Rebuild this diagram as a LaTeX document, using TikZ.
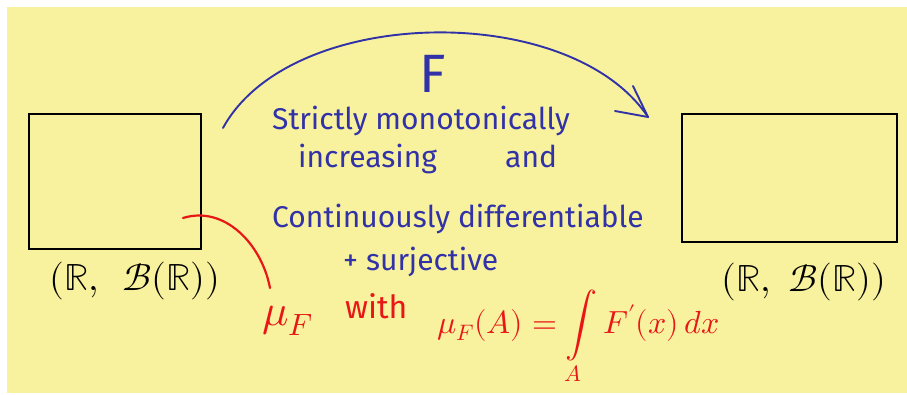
\documentclass[tikz,border=0pt]{standalone}
\usepackage{fontspec}
\usepackage{unicode-math}
\setmainfont{Fira Sans}
\setmathfont{Latin Modern Math}
\definecolor{bg}{RGB}{248,241,158}
\definecolor{ink}{RGB}{50,50,168}
\definecolor{redink}{RGB}{232,22,22}
\tikzset{
  box/.style={draw=black, line width=2.4pt, minimum width=#1, inner sep=0pt},
  blueline/.style={draw=ink, line width=1.9pt, line cap=round, line join=round},
  redline/.style={draw=redink, line width=2.2pt, line cap=round},
  bluetext/.style={text=ink, font=\fontsize{30}{34}\selectfont, inner sep=0pt, anchor=base west},
  redtext/.style={text=redink, font=\fontsize{32}{36}\selectfont, inner sep=0pt, anchor=base west},
  space/.style={text=black, font=\fontsize{38}{42}\selectfont, inner sep=0pt}
}
\begin{document}
\begin{tikzpicture}[x=1pt,y=-1pt]
\useasboundingbox (0,0) rectangle (907,395);
\fill[white] (0,0) rectangle (907,395);
\fill[bg] (7,7) rectangle (907,393);
% boxes
\node[box=172pt, minimum height=135pt] (L) at (115,181.5) {};
\node[box=215pt, minimum height=128pt] (R) at (789.5,178) {};
% labels
\node[space] (Llab) at (135,281) {$(\mathbb{R},\;\, \mathcal{B}(\mathbb{R}))$};
\node[space] (Rlab) at (804,282) {$(\mathbb{R},\; \mathcal{B}(\mathbb{R}))$};
% arc F
\coordinate (as) at (223,128);
\coordinate (ae) at (648,117);
\coordinate (ah1) at (615,111);
\coordinate (ah2) at (633,86);
\draw[blueline] (as) .. controls (290,5) and (570,0) .. (ae);
\draw[blueline] (ah1) -- (ae) -- (ah2);
\node[text=ink, font=\fontsize{54}{56}\selectfont, inner sep=0pt, anchor=base] (F) at (433,93) {F};
\node[bluetext] (t1) at (272,130) {Strictly monotonically};
\node[bluetext] (t2) at (298,168) {increasing};
\node[bluetext] (t2b) at (505,168) {and};
\node[bluetext] (t3) at (272,228) {Continuously differentiable};
\node[bluetext] (t4) at (343,271) {+ surjective};
% red
\coordinate (rs) at (183,218);
\coordinate (re) at (270,288);
\draw[redline] (rs) .. controls (225,205) and (262,245) .. (re);
\node[redtext, font=\fontsize{44}{48}\selectfont] (mu) at (262,325) {$\mu_F$};
\node[redtext] (with) at (345,318) {with};
\node[redtext] (eq) at (437,333) {$\displaystyle \mu_F(A) = \int\limits_A F'(x)\,dx$};
\end{tikzpicture}
\end{document}
